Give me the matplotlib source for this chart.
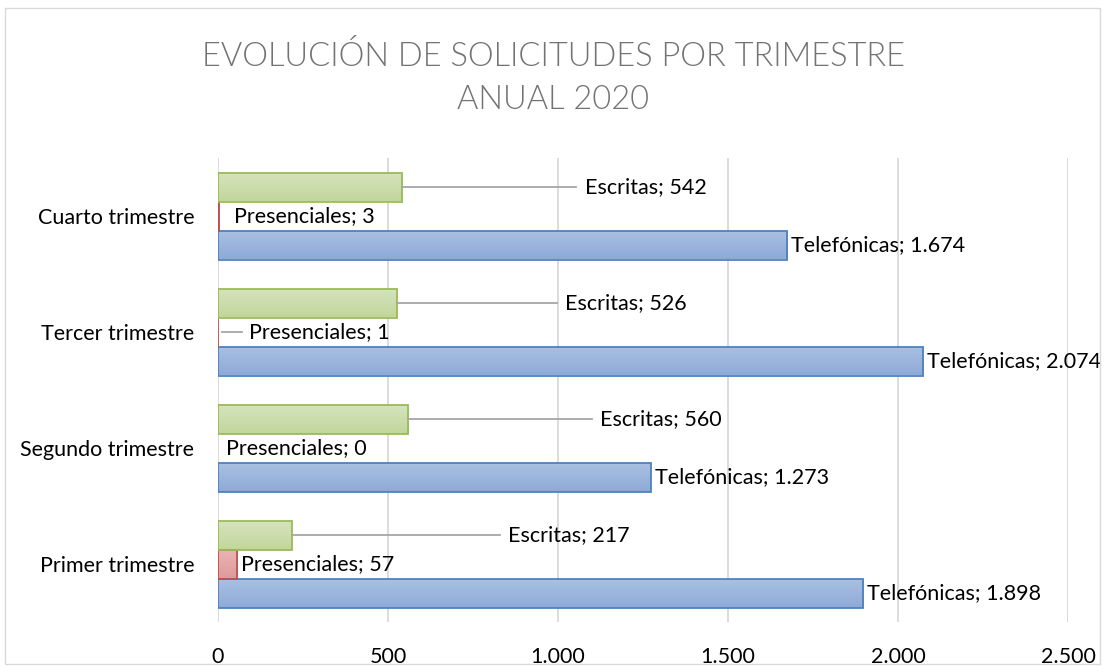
import matplotlib
matplotlib.use("Agg")
import matplotlib.pyplot as plt
import numpy as np
from matplotlib.colors import LinearSegmentedColormap

categories = ["Primer trimestre", "Segundo trimestre", "Tercer trimestre", "Cuarto trimestre"]
telefonicas = [1898, 1273, 2074, 1674]
presenciales = [57, 0, 1, 3]
escritas = [217, 560, 526, 542]
series_names = ["Telefónicas", "Presenciales", "Escritas"]
xticks = [0, 500, 1000, 1500, 2000, 2500]
title = "EVOLUCIÓN DE SOLICITUDES POR TRIMESTRE\nANUAL 2020"

# label placement (data-unit x of label's left edge)
esc_label_x = [853, 1124, 1021, 1079]
pres_label_x = [68, 24, 91, 47]

FONT = "Lato"
plt.rcParams["font.family"] = [FONT, "DejaVu Sans"]

fig = plt.figure(figsize=(11.07, 6.72), dpi=100)
W, H = 1107, 672
ax = fig.add_axes([218 / W, 1 - 622 / H, (1068 - 218) / W, (622 - 158) / H])

# outer border
fig.patches.append(plt.Rectangle((5 / W, 8 / H), (1100 - 5) / W, (664 - 8) / H,
                                 transform=fig.transFigure, fill=False,
                                 edgecolor="#d9d9d9", linewidth=1.0))

y = np.arange(len(categories))
bh = 0.25
styles = [
    (telefonicas, -bh, "#4f81bd", ("#8eaad8", "#aac0e2")),
    (presenciales, 0.0, "#c0504d", ("#dd9a99", "#ebb3b3")),
    (escritas, bh, "#9bbb59", ("#c2d69b", "#d5e4be")),
]
for vals, off, edge, (cbot, ctop) in styles:
    bars = ax.barh(y + off, vals, height=bh, color="none", edgecolor=edge,
                   linewidth=1.3, zorder=3)
    cmap = LinearSegmentedColormap.from_list("g", [cbot, ctop])
    grad = np.linspace(0, 1, 64).reshape(-1, 1)
    for p in bars:
        x0, y0 = p.get_x(), p.get_y()
        w, h = p.get_width(), p.get_height()
        if w <= 1:
            p.set_linewidth(0 if w <= 0 else 0.6)
            if w <= 0:
                continue
        im = ax.imshow(grad, cmap=cmap, origin="lower", aspect="auto",
                       extent=[x0, x0 + w, y0, y0 + h], zorder=2.5)
        im.set_clip_path(p)

fmt = lambda v: f"{v:,}".replace(",", ".")
lab_fs = 15.5
lead_col = "#a6a6a6"
for i in range(len(categories)):
    # Telefónicas
    ax.annotate(f"Telefónicas; {fmt(telefonicas[i])}", (telefonicas[i], y[i] - bh),
                xytext=(3, 0), textcoords="offset points", va="center", ha="left",
                fontsize=lab_fs, color="#000000", zorder=5)
    # Escritas with leader line
    ax.plot([escritas[i], esc_label_x[i] - 25], [y[i] + bh, y[i] + bh],
            color=lead_col, lw=1.3, zorder=4)
    ax.text(esc_label_x[i], y[i] + bh, f"Escritas; {fmt(escritas[i])}",
            va="center", ha="left", fontsize=lab_fs, zorder=5)
    # Presenciales
    if i == 2:
        ax.plot([presenciales[i] + 10, pres_label_x[i] - 20], [y[i], y[i]],
                color=lead_col, lw=1.3, zorder=4)
    ax.text(pres_label_x[i], y[i], f"Presenciales; {fmt(presenciales[i])}",
            va="center", ha="left", fontsize=lab_fs, zorder=5,
            bbox=dict(facecolor="white", edgecolor="none", pad=0.5) if i == 3 else None)

ax.set_xlim(0, 2500)
ax.set_ylim(-0.5, len(categories) - 0.5)
ax.set_xticks(xticks)
ax.set_xticklabels([fmt(t) for t in xticks], fontsize=15.5)
ax.set_yticks(y)
ax.set_yticklabels(categories, fontsize=15.5)
ax.tick_params(length=0)
ax.tick_params(axis="y", pad=17)
ax.tick_params(axis="x", pad=18)
ax.grid(axis="x", color="#d9d9d9", linewidth=1.3, zorder=0)
ax.set_axisbelow(True)
for s in ax.spines.values():
    s.set_visible(False)

fig.text(0.5, 1 - 78 / H, title, ha="center", va="center", fontsize=23.5,
         color="#737373", fontweight=300, linespacing=1.55)

fig.savefig("out.png", dpi=100)
